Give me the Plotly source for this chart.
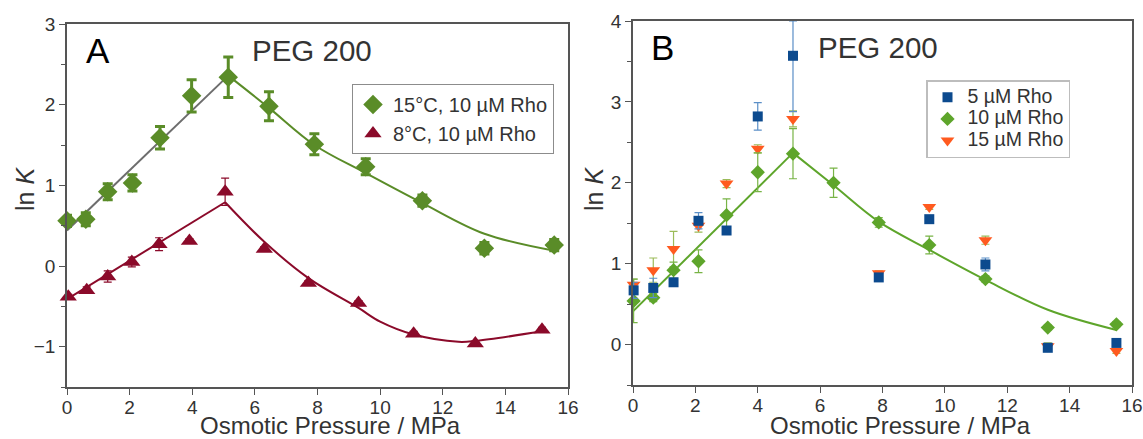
import plotly.graph_objects as go

# ---------------- Panel A data ----------------
a_x15 = [0.0, 0.6, 1.3, 2.09, 2.97, 3.98, 5.15, 6.45, 7.9, 9.54, 11.35, 13.33, 15.56]
a_y15 = [0.56, 0.58, 0.92, 1.03, 1.59, 2.11, 2.34, 1.98, 1.51, 1.23, 0.81, 0.22, 0.26]
a_e15 = [0.07, 0.08, 0.1, 0.1, 0.14, 0.2, 0.25, 0.18, 0.13, 0.1, 0.07, 0.07, 0.07]

a_x8 = [0.04, 0.63, 1.30, 2.07, 2.94, 3.91, 5.05, 6.30, 7.71, 9.31, 11.07, 13.04, 15.17]
a_y8 = [-0.38, -0.30, -0.13, 0.05, 0.27, 0.31, 0.92, 0.21, -0.21, -0.46, -0.84, -0.96, -0.79]
a_e8 = [0.03, 0.04, 0.07, 0.06, 0.08, 0.03, 0.17, 0.03, 0.03, 0.03, 0.03, 0.03, 0.03]

# fit curves
a_fit15_lin_x = [0.0, 5.15]
a_fit15_lin_y = [0.44, 2.36]
a_fit15_cur_x = [5.15, 6.45, 7.9, 9.5, 11.35, 13.33, 15.56]
a_fit15_cur_y = [2.36, 1.96, 1.50, 1.16, 0.78, 0.40, 0.19]

a_fit8_lin_x = [0.0, 5.05]
a_fit8_lin_y = [-0.41, 0.79]
a_fit8_cur_x = [5.05, 6.3, 7.71, 9.31, 10.0, 11.07, 12.5, 13.04, 15.17]
a_fit8_cur_y = [0.79, 0.30, -0.15, -0.52, -0.69, -0.85, -0.94, -0.93, -0.81]

# ---------------- Panel B data ----------------
b_x10 = [0.02, 0.65, 1.30, 2.10, 3.0, 4.0, 5.13, 6.43, 7.88, 9.5, 11.3, 13.3, 15.5]
b_y10 = [0.54, 0.58, 0.92, 1.03, 1.60, 2.13, 2.36, 2.00, 1.51, 1.23, 0.81, 0.21, 0.25]
b_e10 = [0.27, 0.05, 0.1, 0.14, 0.2, 0.24, 0.31, 0.18, 0.06, 0.11, 0.04, 0.03, 0.03]

b_x5 = [0.02, 0.65, 1.30, 2.10, 3.0, 4.0, 5.13, 7.88, 9.5, 11.3, 13.3, 15.5]
b_y5 = [0.67, 0.70, 0.77, 1.53, 1.41, 2.82, 3.57, 0.83, 1.55, 0.99, -0.04, 0.02]
b_e5_plus = [0.1, 0.12, 0.04, 0.1, 0.04, 0.17, 0.43, 0.03, 0.03, 0.08, 0.03, 0.03]
b_e5_minus = [0.1, 0.12, 0.04, 0.1, 0.04, 0.17, 0.69, 0.03, 0.03, 0.08, 0.03, 0.03]

b_x15 = [0.02, 0.65, 1.30, 2.10, 3.0, 4.0, 5.13, 7.88, 9.5, 11.3, 13.3, 15.5]
b_y15 = [0.74, 0.92, 1.18, 1.47, 1.99, 2.42, 2.79, 0.88, 1.70, 1.29, -0.02, -0.08]
b_e15 = [0.07, 0.15, 0.22, 0.08, 0.05, 0.05, 0.1, 0.03, 0.03, 0.05, 0.04, 0.03]

b_fit_lin_x = [0.0, 5.13]
b_fit_lin_y = [0.41, 2.37]
b_fit_cur_x = [5.13, 6.43, 7.88, 9.5, 11.3, 13.3, 15.5]
b_fit_cur_y = [2.37, 1.97, 1.52, 1.17, 0.80, 0.43, 0.18]

x_ticks = [0, 2, 4, 6, 8, 10, 12, 14, 16]

GREEN_A = "#5a8c28"
RED_A = "#8b0a2a"
GRAY = "#6d6d6d"
GREEN_B = "#5ea52b"
BLUE_B = "#0c4a8e"
ORANGE_B = "#ff5a1f"
FONT = "Liberation Sans, Arial, sans-serif"
LEG_B_TXT = '<span style="font-size:19.5px">{}</span>'

fig = go.Figure()

# Panel A fits
fig.add_trace(go.Scatter(x=a_fit15_lin_x, y=a_fit15_lin_y, mode="lines",
                         line=dict(color=GRAY, width=2), showlegend=False,
                         xaxis="x", yaxis="y", hoverinfo="skip"))
fig.add_trace(go.Scatter(x=a_fit15_cur_x, y=a_fit15_cur_y, mode="lines",
                         line=dict(color=GREEN_A, width=2, shape="spline"), showlegend=False,
                         xaxis="x", yaxis="y", hoverinfo="skip"))
fig.add_trace(go.Scatter(x=a_fit8_lin_x, y=a_fit8_lin_y, mode="lines",
                         line=dict(color=RED_A, width=2), showlegend=False,
                         xaxis="x", yaxis="y", hoverinfo="skip"))
fig.add_trace(go.Scatter(x=a_fit8_cur_x, y=a_fit8_cur_y, mode="lines",
                         line=dict(color=RED_A, width=2, shape="spline"), showlegend=False,
                         xaxis="x", yaxis="y", hoverinfo="skip"))

# Panel A data
fig.add_trace(go.Scatter(x=a_x15, y=a_y15, mode="markers", name="15°C, 10 µM Rho",
                         marker=dict(symbol="diamond", size=15, color=GREEN_A),
                         error_y=dict(type="data", array=a_e15, color=GREEN_A, thickness=3, width=5),
                         cliponaxis=False, xaxis="x", yaxis="y", legend="legend"))
fig.add_trace(go.Scatter(x=a_x8, y=a_y8, mode="markers", name="8°C, 10 µM Rho",
                         marker=dict(symbol="triangle-up", size=15, color=RED_A),
                         error_y=dict(type="data", array=a_e8, color=RED_A, thickness=1.2, width=4),
                         cliponaxis=False, xaxis="x", yaxis="y", legend="legend"))

# Panel B fits
fig.add_trace(go.Scatter(x=b_fit_lin_x, y=b_fit_lin_y, mode="lines",
                         line=dict(color=GREEN_B, width=2), showlegend=False,
                         xaxis="x2", yaxis="y2", hoverinfo="skip"))
fig.add_trace(go.Scatter(x=b_fit_cur_x, y=b_fit_cur_y, mode="lines",
                         line=dict(color=GREEN_B, width=2, shape="spline"), showlegend=False,
                         xaxis="x2", yaxis="y2", hoverinfo="skip"))

# Panel B data
fig.add_trace(go.Scatter(x=b_x15, y=b_y15, mode="markers", name=LEG_B_TXT.format("15 µM Rho"),
                         marker=dict(symbol="triangle-down", size=12, color=ORANGE_B),
                         error_y=dict(type="data", array=b_e15, color="#9bbb59", thickness=1.2, width=4),
                         cliponaxis=False, xaxis="x2", yaxis="y2", legend="legend2",
                         legendrank=3))
fig.add_trace(go.Scatter(x=b_x10, y=b_y10, mode="markers", name=LEG_B_TXT.format("10 µM Rho"),
                         marker=dict(symbol="diamond", size=11, color=GREEN_B),
                         error_y=dict(type="data", array=b_e10, color="#78b446", thickness=1.2, width=4),
                         cliponaxis=False, xaxis="x2", yaxis="y2", legend="legend2",
                         legendrank=2))
fig.add_trace(go.Scatter(x=b_x5, y=b_y5, mode="markers", name=LEG_B_TXT.format("5 µM Rho"),
                         marker=dict(symbol="square", size=10, color=BLUE_B),
                         error_y=dict(type="data", symmetric=False, array=b_e5_plus,
                                      arrayminus=b_e5_minus, color="#5b8fc7", thickness=1.2, width=4),
                         cliponaxis=False, xaxis="x2", yaxis="y2", legend="legend2",
                         legendrank=1))

axis_common = dict(showline=True, linecolor="#555555", linewidth=1.5, mirror=True,
                   ticks="outside", ticklen=6, tickcolor="#555555", showgrid=False,
                   zeroline=False, automargin=False,
                   tickfont=dict(size=19, color="#333333", family=FONT))

W, H = 1143, 439


def ann(text, x, y, size, color="#333333", angle=0):
    return dict(text=text, x=x / W, y=1 - y / H, xref="paper", yref="paper",
                xanchor="center", yanchor="middle", showarrow=False, textangle=angle,
                font=dict(size=size, color=color, family=FONT))


fig.update_layout(
    width=W, height=H,
    margin=dict(l=0, r=0, t=0, b=0, autoexpand=False),
    paper_bgcolor="white", plot_bgcolor="white",
    font=dict(family=FONT, color="#333333"),
    xaxis=dict(domain=[67 / W, 568 / W], range=[0, 16], tickvals=x_ticks, anchor="y",
               ticklabelstandoff=-4, **axis_common),
    yaxis=dict(domain=[(H - 387) / H, (H - 24) / H], range=[-1.5, 3], dtick=1, anchor="x",
               minor=dict(dtick=0.5, ticks="outside", ticklen=4, tickcolor="#555555"),
               **axis_common),
    xaxis2=dict(domain=[633 / W, 1132 / W], range=[0, 16], tickvals=x_ticks, anchor="y2",
                ticklabelstandoff=-4, **axis_common),
    yaxis2=dict(domain=[(H - 385) / H, (H - 21) / H], range=[-0.5, 4], dtick=1, anchor="x2",
                minor=dict(dtick=0.5, ticks="outside", ticklen=4, tickcolor="#555555"),
                **axis_common),
    legend=dict(x=352 / W, y=1 - 84 / H, xanchor="left", yanchor="top",
                bordercolor="#8c8c8c", borderwidth=1, bgcolor="white",
                font=dict(size=20, color="#333333", family=FONT), tracegroupgap=0),
    legend2=dict(x=926 / W, y=1 - 80 / H, xanchor="left", yanchor="top",
                 bordercolor="#bdbdbd", borderwidth=1.5, bgcolor="white",
                 font=dict(size=14.3, color="#333333", family=FONT), tracegroupgap=0),
    annotations=[
        ann("A", 98, 50, 35, color="black"),
        ann("PEG 200", 312, 50, 29.5),
        ann("B", 662, 47, 35, color="black"),
        ann("PEG 200", 878, 47, 29.5),
        ann("Osmotic Pressure / MPa", 330, 425, 24),
        ann("Osmotic Pressure / MPa", 900, 425, 24),
        ann("ln <i>K</i>", 25, 189, 25, angle=-90),
        ann("ln <i>K</i>", 594, 189, 25, angle=-90),
    ],
)

fig.write_html("out.html", config={"displayModeBar": False},
               post_script="document.body.style.margin='0';")
